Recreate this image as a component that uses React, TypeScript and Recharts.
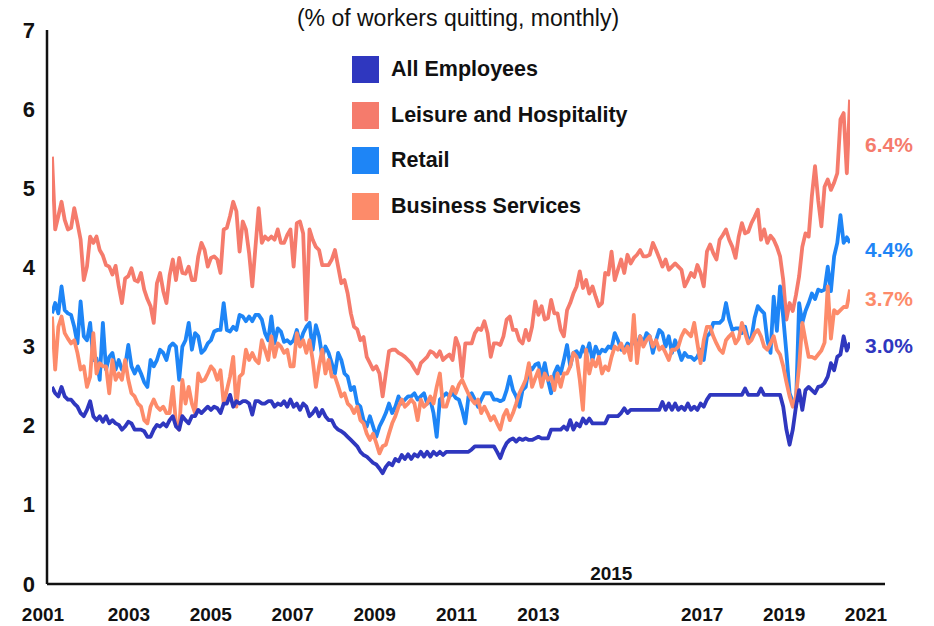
import React from "react";
import { LineChart, Line, XAxis, YAxis, Legend } from "recharts";

// Monthly quit rates (%), Dec 2000 onwards
const leisure = [
  5.40, 4.48, 4.65, 4.83, 4.60, 4.48, 4.50, 4.75, 4.56, 4.35, 3.84, 4.01,
  4.39, 4.31, 4.39, 4.22, 4.15, 4.03, 4.01, 3.91, 4.02, 3.76, 3.55, 3.86,
  3.89, 3.99, 3.84, 3.82, 3.93, 3.72, 3.60, 3.51, 3.30, 3.80, 3.93, 3.70,
  3.55, 3.90, 4.10, 3.84, 4.12, 3.93, 3.92, 4.01, 3.84, 3.84, 4.14, 4.31,
  4.22, 4.01, 4.12, 4.14, 4.10, 3.93, 4.48, 4.50, 4.65, 4.83, 4.71, 4.20,
  4.58, 4.48, 4.18, 3.76, 4.26, 4.75, 4.31, 4.39, 4.35, 4.39, 4.35, 4.48,
  4.31, 4.31, 4.41, 4.48, 4.01, 4.56, 4.58, 4.43, 3.34, 4.48, 4.35, 4.26,
  4.22, 4.03, 4.03, 4.03, 4.10, 4.22, 4.01, 3.80, 3.84, 3.67, 3.42, 3.25,
  3.22, 3.08, 3.12, 2.87, 2.79, 2.71, 2.75, 2.66, 2.37, 2.66, 2.94, 2.96,
  2.96, 2.92, 2.90, 2.87, 2.83, 2.79, 2.72, 2.66, 2.79, 2.83, 2.87, 2.94,
  2.92, 2.87, 2.94, 2.83, 2.87, 2.90, 2.83, 3.11, 3.00, 2.62, 3.04, 3.04,
  3.04, 3.17, 3.23, 3.21, 3.32, 3.17, 2.87, 3.04, 3.04, 3.02, 3.13, 3.34,
  3.38, 3.21, 3.21, 3.08, 3.04, 3.21, 3.08, 3.25, 3.57, 3.40, 3.51, 3.34,
  3.36, 3.59, 3.42, 3.42, 3.21, 3.13, 3.46, 3.55, 3.67, 3.76, 3.95, 3.74,
  3.84, 3.67, 3.76, 3.63, 3.51, 3.55, 3.93, 3.91, 4.20, 3.84, 3.97, 4.10,
  3.93, 4.16, 4.05, 4.12, 4.16, 4.22, 4.14, 4.14, 4.16, 4.31, 4.22, 4.12,
  4.01, 4.10, 3.97, 4.01, 4.05, 4.01, 3.97, 3.76, 3.84, 3.93, 3.88, 4.03,
  3.93, 3.76, 4.20, 4.29, 4.18, 4.10, 4.35, 4.41, 4.48, 4.35, 4.26, 4.12,
  4.39, 4.56, 4.43, 4.45, 4.56, 4.64, 4.73, 4.35, 4.48, 4.31, 4.40, 4.35,
  4.26, 4.14, 3.84, 3.34, 3.55, 3.45, 3.65, 3.89, 4.26, 4.43, 4.39, 4.90,
  5.28, 4.85, 4.52, 5.02, 5.11, 4.98, 5.07, 5.19, 5.87, 5.95, 5.19, 6.12,
];

const retail = [
  3.42, 3.55, 3.42, 3.76, 3.46, 3.42, 3.40, 3.25, 3.04, 3.57, 3.13, 3.08,
  3.30, 2.83, 2.85, 2.58, 3.30, 2.71, 2.87, 2.92, 2.71, 2.83, 2.71, 2.75,
  3.02, 2.75, 2.66, 2.75, 2.66, 2.55, 2.49, 2.83, 2.75, 2.83, 2.96, 2.92,
  2.83, 3.00, 3.04, 3.00, 2.58, 3.00, 3.08, 3.30, 2.96, 3.17, 3.13, 2.92,
  2.96, 3.04, 3.08, 3.19, 3.21, 3.21, 3.55, 3.21, 3.19, 3.25, 3.21, 3.40,
  3.38, 3.32, 3.38, 3.32, 3.40, 3.40, 3.34, 3.17, 3.08, 3.38, 3.04, 3.23,
  3.19, 3.06, 3.08, 3.04, 3.08, 3.21, 3.04, 3.17, 3.25, 3.30, 2.96, 3.27,
  3.13, 2.87, 3.00, 2.92, 2.79, 2.66, 2.92, 2.83, 2.66, 2.62, 2.45, 2.49,
  2.28, 2.24, 2.07, 1.99, 2.12, 1.99, 1.86, 1.99, 2.07, 2.16, 2.28, 2.16,
  2.24, 2.37, 2.28, 2.33, 2.37, 2.37, 2.41, 2.33, 2.37, 2.41, 2.28, 2.33,
  2.16, 1.86, 2.33, 2.37, 2.41, 2.37, 2.41, 2.35, 2.33, 2.20, 2.03, 2.37,
  2.41, 2.33, 2.24, 2.33, 2.41, 2.41, 2.41, 2.33, 2.33, 2.31, 2.33, 2.45,
  2.62, 2.45, 2.37, 2.24, 2.45, 2.49, 2.75, 2.71, 2.77, 2.79, 2.62, 2.79,
  2.58, 2.41, 2.66, 2.75, 2.66, 2.83, 3.02, 2.75, 2.92, 2.94, 2.87, 3.00,
  2.90, 3.04, 2.83, 3.00, 2.90, 2.96, 2.94, 3.00, 2.98, 3.17, 3.08, 2.96,
  2.96, 3.04, 3.00, 3.08, 3.02, 3.13, 3.04, 3.17, 3.13, 2.92, 3.08, 3.21,
  3.17, 3.00, 3.13, 2.92, 3.08, 2.96, 2.83, 2.92, 2.87, 2.87, 2.83, 2.87,
  2.96, 2.83, 3.13, 3.17, 3.30, 3.30, 3.30, 3.34, 3.55, 3.34, 3.21, 3.23,
  3.23, 3.17, 3.25, 3.08, 3.11, 3.36, 3.51, 3.46, 3.42, 3.08, 2.92, 3.63,
  3.20, 3.76, 3.37, 2.92, 2.41, 2.30, 2.24, 3.55, 3.30, 3.45, 3.55, 3.67,
  3.60, 3.72, 3.70, 3.72, 4.01, 3.70, 4.14, 4.31, 4.66, 4.31, 4.38, 4.31,
];

const business = [
  3.38, 2.71, 3.25, 3.38, 3.17, 3.10, 3.04, 3.08, 2.92, 2.71, 2.75, 2.49,
  2.62, 3.17, 2.66, 2.79, 2.75, 2.75, 2.41, 2.83, 2.58, 2.66, 2.58, 2.83,
  2.58, 2.41, 2.37, 2.28, 2.24, 2.07, 2.03, 2.24, 2.33, 2.24, 2.20, 2.24,
  2.16, 2.16, 2.49, 2.03, 1.95, 2.58, 2.28, 2.49, 2.28, 2.16, 2.66, 2.56,
  2.58, 2.66, 2.75, 2.70, 2.58, 2.70, 2.28, 2.45, 2.62, 2.87, 2.24, 2.62,
  2.66, 2.96, 2.83, 2.92, 2.83, 2.79, 3.08, 2.96, 2.83, 3.13, 2.87, 3.04,
  3.00, 2.92, 2.96, 2.75, 2.75, 3.17, 3.00, 3.08, 2.92, 3.08, 2.83, 2.49,
  2.75, 2.96, 2.66, 2.83, 2.62, 2.62, 2.50, 2.37, 2.41, 2.28, 2.24, 2.16,
  2.24, 2.07, 2.03, 1.90, 1.82, 1.90, 1.78, 1.65, 1.74, 1.76, 1.90, 2.03,
  2.12, 2.24, 2.33, 2.24, 2.28, 2.33, 2.28, 2.07, 2.33, 2.24, 2.28, 2.37,
  2.28, 2.49, 2.66, 2.24, 2.24, 2.37, 2.49, 2.41, 2.52, 2.58, 2.49, 2.40,
  2.33, 2.28, 2.33, 2.16, 2.24, 2.16, 2.07, 2.12, 2.03, 1.95, 2.12, 2.20,
  2.07, 2.16, 2.28, 2.41, 2.49, 2.58, 2.79, 2.49, 2.60, 2.70, 2.49, 2.66,
  2.58, 2.62, 2.45, 2.66, 2.49, 2.66, 2.66, 2.75, 2.92, 2.87, 2.58, 2.20,
  2.96, 2.66, 2.83, 2.75, 2.87, 2.66, 2.75, 2.70, 2.87, 3.00, 2.96, 3.04,
  2.92, 3.00, 2.83, 3.40, 2.79, 3.13, 3.00, 3.08, 3.13, 3.00, 3.08, 2.96,
  3.00, 2.92, 2.83, 2.96, 2.96, 3.00, 3.13, 3.21, 3.17, 3.13, 3.30, 3.04,
  2.79, 3.08, 3.25, 3.25, 3.13, 3.04, 2.96, 2.92, 3.08, 3.13, 3.17, 3.04,
  3.10, 3.30, 3.17, 3.04, 3.08, 3.17, 3.21, 3.13, 3.00, 2.96, 3.04, 3.13,
  2.96, 2.90, 2.75, 2.55, 2.37, 2.24, 2.37, 2.75, 3.30, 3.08, 2.87, 2.87,
  2.85, 2.90, 2.95, 3.05, 3.76, 3.10, 3.46, 3.42, 3.46, 3.50, 3.50, 3.72,
];

const allEmployees = [
  2.49, 2.41, 2.37, 2.49, 2.37, 2.33, 2.33, 2.28, 2.24, 2.16, 2.12, 2.20,
  2.31, 2.12, 2.07, 2.12, 2.05, 2.12, 2.03, 2.07, 2.03, 2.01, 1.95, 1.99,
  2.05, 2.03, 1.95, 1.95, 1.95, 1.93, 1.86, 1.86, 1.95, 2.01, 1.99, 2.03,
  1.99, 2.07, 2.12, 1.99, 1.95, 2.12, 2.07, 2.03, 2.12, 2.12, 2.20, 2.16,
  2.20, 2.24, 2.20, 2.24, 2.22, 2.16, 2.28, 2.28, 2.39, 2.24, 2.31, 2.28,
  2.31, 2.31, 2.28, 2.14, 2.31, 2.31, 2.28, 2.28, 2.31, 2.31, 2.24, 2.28,
  2.26, 2.31, 2.24, 2.33, 2.24, 2.28, 2.20, 2.28, 2.24, 2.12, 2.16, 2.22,
  2.12, 2.20, 2.12, 2.07, 2.07, 1.99, 1.95, 1.93, 1.90, 1.86, 1.82, 1.78,
  1.74, 1.67, 1.63, 1.61, 1.57, 1.53, 1.51, 1.46, 1.40, 1.48, 1.53, 1.50,
  1.58, 1.55, 1.63, 1.58, 1.64, 1.58, 1.64, 1.61, 1.67, 1.61, 1.67, 1.61,
  1.67, 1.63, 1.67, 1.63, 1.67, 1.67, 1.67, 1.67, 1.67, 1.67, 1.67, 1.67,
  1.70, 1.74, 1.74, 1.74, 1.74, 1.74, 1.74, 1.74, 1.67, 1.59, 1.70, 1.78,
  1.82, 1.84, 1.80, 1.84, 1.82, 1.84, 1.82, 1.82, 1.84, 1.86, 1.84, 1.84,
  1.84, 1.95, 1.95, 1.95, 1.95, 1.99, 1.95, 2.07, 1.95, 2.03, 1.99, 2.09,
  2.03, 2.09, 2.03, 2.03, 2.03, 2.03, 2.03, 2.12, 2.12, 2.12, 2.12, 2.16,
  2.22, 2.16, 2.20, 2.20, 2.20, 2.20, 2.20, 2.20, 2.20, 2.20, 2.20, 2.20,
  2.30, 2.20, 2.28, 2.20, 2.28, 2.20, 2.24, 2.20, 2.28, 2.20, 2.24, 2.20,
  2.28, 2.24, 2.33, 2.39, 2.39, 2.39, 2.39, 2.39, 2.39, 2.39, 2.39, 2.39,
  2.39, 2.39, 2.47, 2.39, 2.39, 2.39, 2.39, 2.47, 2.39, 2.39, 2.39, 2.39,
  2.39, 2.39, 2.24, 1.95, 1.76, 1.95, 2.24, 2.45, 2.20, 2.45, 2.49, 2.45,
  2.41, 2.49, 2.50, 2.54, 2.62, 2.79, 2.70, 2.87, 2.90, 3.13, 2.95, 3.05,
];

const yearTicks = [2001, 2003, 2005, 2007, 2009, 2011, 2013, 2015, 2017, 2019, 2021];
const yTicks = [0, 1, 2, 3, 4, 5, 6, 7];

const FONT = '"Liberation Sans", Arial, sans-serif';

// legend order (top to bottom)
const SERIES = [
  { key: "all", name: "All Employees", color: "#2F37BF", end: "3.0%", dy: 3 },
  { key: "leisure", name: "Leisure and Hospitality", color: "#F57B6C", end: "6.4%", dy: 45 },
  { key: "retail", name: "Retail", color: "#1E85F6", end: "4.4%", dy: 7 },
  { key: "business", name: "Business Services", color: "#FD8B6A", end: "3.7%", dy: 9 },
];
// draw order, last on top
const DRAW_ORDER = ["leisure", "retail", "business", "all"];

// t = month as a fractional year, first month is Dec 2000
const rows = allEmployees.map((v, i) => ({
  t: 2000 + (11 + i) / 12,
  all: v,
  leisure: leisure[i],
  retail: retail[i],
  business: business[i],
}));
const LAST = rows.length - 1;
const T0 = rows[0].t;
const T1 = rows[LAST].t;

const YearTick = (props: any) => {
  const { x, y, payload } = props;
  const raised = payload.value === 2015; // sits above the axis in the original
  const nudge = payload.value === 2001 ? -4 : raised ? -9 : 0;
  return (
    <text
      x={x + nudge}
      y={raised ? y - 13 : y + 28}
      textAnchor="middle"
      dominantBaseline="central"
      fontFamily={FONT}
      fontWeight={700}
      fontSize={19}
      fill="#111"
    >
      {payload.value}
    </text>
  );
};

const ValueTick = (props: any) => {
  const { x, y, payload } = props;
  return (
    <text x={x} y={y} textAnchor="end" dominantBaseline="central" fontFamily={FONT} fontWeight={700} fontSize={22} fill="#111">
      {payload.value}
    </text>
  );
};

const LegendBox = () => (
  <div style={{ fontFamily: FONT }}>
    {SERIES.map((s) => (
      <div key={s.key} style={{ display: "flex", alignItems: "center", height: 45.5 }}>
        <span style={{ display: "inline-block", width: 27, height: 27, background: s.color, marginRight: 12 }} />
        <span style={{ fontWeight: 700, fontSize: 21.5, color: "#111" }}>{s.name}</span>
      </div>
    ))}
  </div>
);

export default function App() {
  return (
    <div style={{ position: "absolute", left: 0, top: 0, width: 934, height: 626, background: "#fff" }}>
      <div
        style={{
          position: "absolute",
          left: 0,
          top: 4,
          width: 916,
          textAlign: "center",
          fontFamily: FONT,
          fontSize: 23,
          color: "#111",
          lineHeight: "28px",
        }}
      >
        (% of workers quitting, monthly)
      </div>
      <LineChart width={934} height={626} data={rows} margin={{ top: 30, right: 49, bottom: 0, left: 0 }}>
        <XAxis
          xAxisId="a_years"
          dataKey="t"
          type="number"
          domain={[2001, 2021]}
          ticks={yearTicks}
          interval={0}
          allowDataOverflow
          padding={{ left: 0, right: 19 }}
          height={42}
          axisLine={{ stroke: "#111", strokeWidth: 2.5 }}
          tickLine={false}
          tickSize={0}
          tick={<YearTick />}
        />
        <XAxis
          xAxisId="b_data"
          dataKey="t"
          type="number"
          domain={[T0, T1]}
          allowDataOverflow
          padding={{ left: 5, right: 35 }}
          height={0}
          hide
        />
        <YAxis
          domain={[0, 7]}
          ticks={yTicks}
          interval={0}
          width={47}
          axisLine={{ stroke: "#111", strokeWidth: 2.5 }}
          tickLine={false}
          tickSize={0}
          tickMargin={12}
          tick={<ValueTick />}
        />
        <Legend
          content={<LegendBox />}
          layout="vertical"
          align="center"
          verticalAlign="middle"
          wrapperStyle={{ position: "absolute", left: 352, top: 47, width: "auto" }}
        />
        {DRAW_ORDER.map((k) => {
          const s = SERIES.find((d) => d.key === k)!;
          return (
            <Line
              key={s.key}
              xAxisId="b_data"
              dataKey={s.key}
              name={s.name}
              type="linear"
              stroke={s.color}
              strokeWidth={3.8}
              strokeLinejoin="round"
              dot={false}
              isAnimationActive={false}
              label={(p: any) =>
                p.index === LAST ? (
                  <text
                    key="end"
                    x={p.x + 15}
                    y={p.y + s.dy}
                    dominantBaseline="central"
                    fontFamily={FONT}
                    fontWeight={700}
                    fontSize={21}
                    fill={s.color}
                  >
                    {s.end}
                  </text>
                ) : (
                  <g key={p.index} />
                )
              }
            />
          );
        })}
      </LineChart>
    </div>
  );
}
